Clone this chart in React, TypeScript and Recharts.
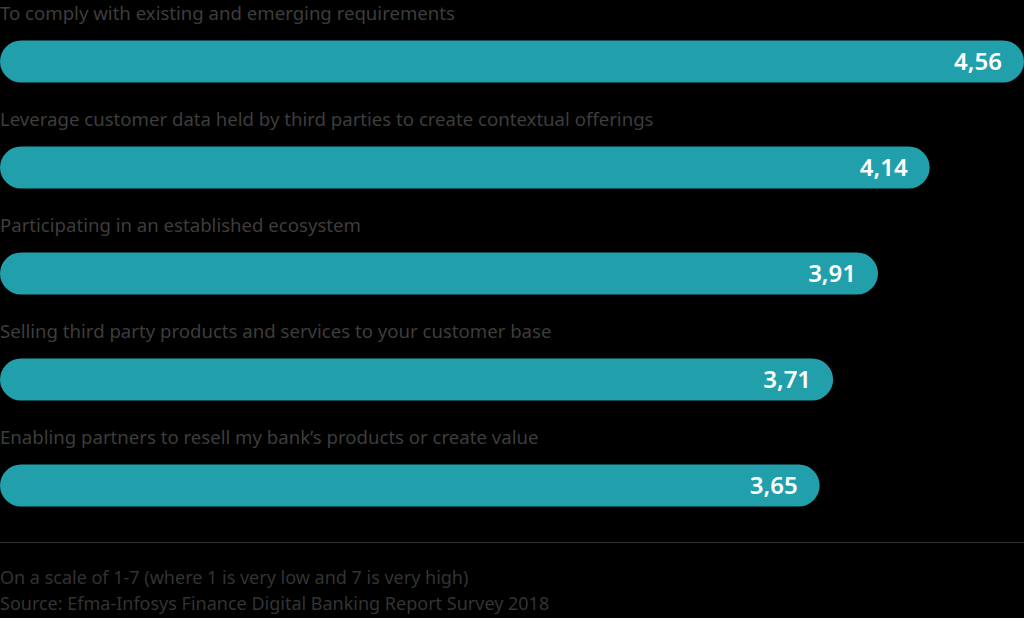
import React from "react";
import { BarChart, Bar, XAxis, YAxis, LabelList } from "recharts";

// categories and scores (scale 1-7)
const categories = [
  "To comply with existing and emerging requirements",
  "Leverage customer data held by third parties to create contextual offerings",
  "Participating in an established ecosystem",
  "Selling third party products and services to your customer base",
  "Enabling partners to resell my bank’s products or create value",
];
const scores = [4.56, 4.14, 3.91, 3.71, 3.65];

const notes = [
  "On a scale of 1-7 (where 1 is very low and 7 is very high)",
  "Source: Efma-Infosys Finance Digital Banking Report Survey 2018",
];

const data = categories.map((name, i) => ({ name, score: scores[i] }));

const BAR = "#21a0ac";
const FONT = "'Noto Sans', sans-serif";

const CategoryLabel = (props: any) => {
  const { x, y, value } = props;
  return (
    <text x={x} y={y - 28} dominantBaseline="central" fill="#3d3d3d" fontSize={18.6} fontFamily={FONT}>
      {value}
    </text>
  );
};

export default function App() {
  return (
    <div style={{ position: "absolute", left: 0, top: 0, width: 1024, height: 618, background: "#000", overflow: "hidden", fontFamily: FONT }}>
      <BarChart
        width={1024}
        height={540}
        data={data}
        layout="vertical"
        margin={{ top: 8.5, right: 0, bottom: 1.5, left: 0 }}
        barSize={42}
      >
        <XAxis type="number" hide domain={[0, 4.56]} />
        <YAxis type="category" dataKey="name" hide />
        <Bar dataKey="score" fill={BAR} radius={21} isAnimationActive={false}>
          <LabelList dataKey="name" content={<CategoryLabel />} />
          <LabelList
            dataKey="score"
            position="insideRight"
            offset={22}
            fill="#ffffff"
            fontSize={24}
            fontWeight={600}
            fontFamily={FONT}
            formatter={(v: any) => Number(v).toFixed(2).replace(".", ",")}
          />
        </Bar>
      </BarChart>
      <div style={{ position: "absolute", left: 0, top: 542, width: 1024, height: 1, background: "#333" }} />
      {notes.map((t, i) => (
        <div key={i} style={{ position: "absolute", left: 0, top: 565 + i * 26, fontSize: 18, color: "#333", whiteSpace: "nowrap" }}>
          {t}
        </div>
      ))}
    </div>
  );
}
